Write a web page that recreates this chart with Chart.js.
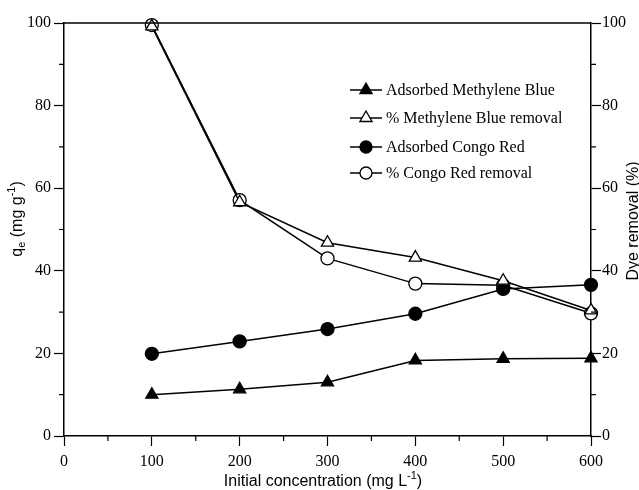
<!DOCTYPE html>
<html>
<head>
<meta charset="utf-8">
<title>Dye adsorption vs initial concentration</title>
<script src="https://cdn.jsdelivr.net/npm/chart.js@4.4.1/dist/chart.umd.min.js"></script>
<style>
    html, body { margin: 0; padding: 0; background: #fff; }
    #wrap { width: 639px; height: 490px; }
</style>
</head>
<body>
<div id="wrap"><canvas id="chart" width="639" height="490"></canvas></div>
<script>
// ===== DATA =====
const concentrations = [100, 200, 300, 400, 500, 600];
const adsorbedMB = [10.0, 11.3, 13.0, 18.3, 18.7, 18.8];
const removalMB = [99.2, 56.6, 46.8, 43.2, 37.6, 30.4];
const adsorbedCR = [19.9, 22.9, 25.9, 29.6, 35.6, 36.6];
const removalCR = [99.5, 57.1, 43.0, 36.9, 36.5, 29.7];
const seriesLabels = [
    'Adsorbed Methylene Blue',
    '% Methylene Blue removal',
    'Adsorbed Congo Red',
    '% Congo Red removal'
];

// ===== HELPERS =====
const SERIF = '"Liberation Serif", "Times New Roman", serif';
const SANS = '"Liberation Sans", Arial, sans-serif';

function points(values) {
    return concentrations.map((c, i) => ({ x: c, y: values[i] }));
}

// draw text with sub/superscript pieces, centred on (x, y)
function drawRich(ctx, parts, x, y, angle, size) {
    const small = Math.round(size * 0.68);
    ctx.save();
    ctx.translate(x, y);
    ctx.rotate(angle);
    ctx.textBaseline = 'alphabetic';
    ctx.textAlign = 'left';
    ctx.fillStyle = '#000';
    let total = 0;
    parts.forEach(p => {
        ctx.font = (p.sub || p.sup ? small : size) + 'px ' + SANS;
        p.w = ctx.measureText(p.t).width;
        total += p.w;
    });
    let cx = -total / 2;
    const base = size * 0.35;
    parts.forEach(p => {
        ctx.font = (p.sub || p.sup ? small : size) + 'px ' + SANS;
        let dy = base;
        if (p.sup) dy = base - size * 0.42;
        if (p.sub) dy = base + size * 0.22;
        ctx.fillText(p.t, cx, dy);
        cx += p.w;
    });
    ctx.restore();
}

function drawMarker(ctx, style, filled, x, y, r) {
    ctx.beginPath();
    if (style === 'triangle') {
        ctx.moveTo(x, y - r);
        ctx.lineTo(x + r * 0.866, y + r * 0.5);
        ctx.lineTo(x - r * 0.866, y + r * 0.5);
        ctx.closePath();
    } else {
        ctx.arc(x, y, r, 0, Math.PI * 2);
    }
    ctx.fillStyle = filled ? '#000' : '#fff';
    ctx.fill();
    ctx.lineWidth = 1.3;
    ctx.strokeStyle = '#000';
    ctx.stroke();
}

// frame, minor ticks, axis titles and legend
const decorPlugin = {
    id: 'decor',
    afterDraw(chart) {
        const ctx = chart.ctx;
        const area = chart.chartArea;
        const xs = chart.scales.x, ys = chart.scales.y;

        ctx.save();
        ctx.strokeStyle = '#000';
        ctx.lineWidth = 1.5;
        // top border
        ctx.beginPath();
        ctx.moveTo(area.left, area.top);
        ctx.lineTo(area.right, area.top);
        ctx.stroke();

        // minor ticks
        ctx.lineWidth = 1.2;
        ctx.beginPath();
        for (let v = 10; v < 100; v += 20) {
            const py = ys.getPixelForValue(v);
            ctx.moveTo(area.left, py); ctx.lineTo(area.left - 5, py);
            ctx.moveTo(area.right, py); ctx.lineTo(area.right + 5, py);
        }
        for (let v = 50; v < 600; v += 100) {
            const px = xs.getPixelForValue(v);
            ctx.moveTo(px, area.bottom); ctx.lineTo(px, area.bottom + 5);
        }
        ctx.stroke();
        ctx.restore();

        // axis titles
        drawRich(ctx, [{ t: 'q' }, { t: 'e', sub: true }, { t: ' (mg g' }, { t: '-1', sup: true }, { t: ')' }],
            16, 219, -Math.PI / 2, 16);
        drawRich(ctx, [{ t: 'Dye removal (%)' }], 632, 221, -Math.PI / 2, 16);
        drawRich(ctx, [{ t: 'Initial concentration (mg L' }, { t: '-1', sup: true }, { t: ')' }],
            323, 480, 0, 16);

        // legend
        const rows = [90, 118, 147, 173];
        chart.data.datasets.forEach((ds, i) => {
            const y = rows[i];
            ctx.save();
            ctx.strokeStyle = '#000';
            ctx.lineWidth = 1.5;
            ctx.beginPath();
            ctx.moveTo(350, y);
            ctx.lineTo(382, y);
            ctx.stroke();
            drawMarker(ctx, ds.pointStyle, ds.pointBackgroundColor === '#000', 366, y, ds.pointStyle === 'triangle' ? 7 : 6);
            ctx.fillStyle = '#000';
            ctx.font = '16px ' + SERIF;
            ctx.textBaseline = 'middle';
            ctx.textAlign = 'left';
            ctx.fillText(ds.label, 386, y + 1);
            ctx.restore();
        });
    }
};

function makeDataset(label, values, style, filled, axis) {
    return {
        label: label,
        data: points(values),
        yAxisID: axis,
        borderColor: '#000',
        borderWidth: 1.5,
        pointStyle: style,
        pointRadius: style === 'triangle' ? 7 : 6.5,
        pointBorderWidth: 1.3,
        pointBorderColor: '#000',
        pointBackgroundColor: filled ? '#000' : '#fff',
        tension: 0,
        clip: false
    };
}

const tickFont = { family: SERIF, size: 16 };

new Chart(document.getElementById('chart'), {
    type: 'line',
    data: {
        datasets: [
            makeDataset(seriesLabels[0], adsorbedMB, 'triangle', true, 'y'),
            makeDataset(seriesLabels[1], removalMB, 'triangle', false, 'y1'),
            makeDataset(seriesLabels[2], adsorbedCR, 'circle', true, 'y'),
            makeDataset(seriesLabels[3], removalCR, 'circle', false, 'y1')
        ]
    },
    options: {
        responsive: false,
        animation: false,
        layout: { padding: { top: 23, left: 0, right: 0, bottom: 0 } },
        plugins: { legend: { display: false }, tooltip: { enabled: false } },
        scales: {
            x: {
                type: 'linear',
                min: 0, max: 600,
                afterFit: s => { s.height = 54; },
                border: { color: '#000', width: 1.5 },
                grid: {
                    drawOnChartArea: false, tickLength: 10, tickWidth: 1.2,
                    tickColor: c => (c.tick && c.tick.value % 100 === 0) ? '#000' : 'rgba(0,0,0,0)'
                },
                ticks: {
                    stepSize: 50, autoSkip: false, maxRotation: 0, padding: 6,
                    color: '#000', font: tickFont,
                    callback: v => (v % 100 === 0 ? v : '')
                }
            },
            y: {
                position: 'left',
                min: 0, max: 100,
                afterFit: s => { s.width = 64; },
                border: { color: '#000', width: 1.5 },
                grid: {
                    drawOnChartArea: false, tickLength: 10, tickWidth: 1.2,
                    tickColor: c => (c.tick && c.tick.value % 20 === 0) ? '#000' : 'rgba(0,0,0,0)'
                },
                ticks: {
                    stepSize: 10, autoSkip: false, padding: 3,
                    color: '#000', font: tickFont,
                    callback: v => (v % 20 === 0 ? v : '')
                }
            },
            y1: {
                position: 'right',
                min: 0, max: 100,
                afterFit: s => { s.width = 48; },
                border: { color: '#000', width: 1.5 },
                grid: {
                    drawOnChartArea: false, tickLength: 10, tickWidth: 1.2,
                    tickColor: c => (c.tick && c.tick.value % 20 === 0) ? '#000' : 'rgba(0,0,0,0)'
                },
                ticks: {
                    stepSize: 10, autoSkip: false, padding: 1,
                    color: '#000', font: tickFont,
                    callback: v => (v % 20 === 0 ? v : '')
                }
            }
        }
    },
    plugins: [decorPlugin]
});
</script>
</body>
</html>
